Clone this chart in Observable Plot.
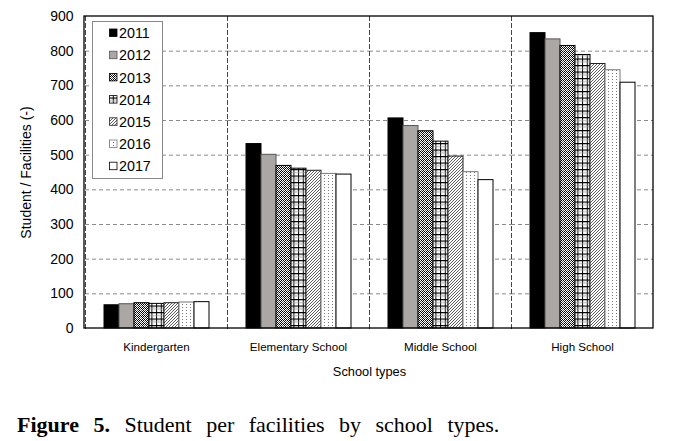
<!DOCTYPE html>
<html>
<head>
<meta charset="utf-8">
<script src="https://cdn.jsdelivr.net/npm/d3@7"></script>
<script src="https://cdn.jsdelivr.net/npm/@observablehq/plot@0.6"></script>
<style>
  html, body { margin: 0; padding: 0; background: #fff; }
  #wrap { position: relative; width: 674px; height: 441px; overflow: hidden; font-family: "Liberation Sans", Arial, sans-serif; }
  #caption { position: absolute; left: 17px; top: 414px; font-family: "Liberation Serif", "Times New Roman", serif; font-size: 22px; line-height: 22px; word-spacing: 9px; white-space: nowrap; color: #000; }
  #caption b { font-weight: bold; }
  #legend { position: absolute; left: 0; top: 0; }
</style>
</head>
<body>
<svg width="0" height="0" style="position:absolute">
  <defs>
    <pattern id="pat2013" width="4" height="4" patternUnits="userSpaceOnUse">
      <rect width="4" height="4" fill="#fff"/>
      <rect x="0" y="0" width="1" height="1" fill="#000"/>
      <rect x="2" y="0" width="1" height="1" fill="#000"/>
      <rect x="1" y="1" width="1" height="1" fill="#000"/>
      <rect x="3" y="1" width="1" height="1" fill="#555"/>
      <rect x="0" y="2" width="1" height="1" fill="#555"/>
      <rect x="2" y="2" width="1" height="1" fill="#000"/>
      <rect x="1" y="3" width="1" height="1" fill="#000"/>
      <rect x="3" y="3" width="1" height="1" fill="#000"/>
    </pattern>
    <pattern id="pat2014" width="4.7" height="6.5" patternUnits="userSpaceOnUse">
      <rect width="4.7" height="6.5" fill="#fff"/>
      <rect x="0" y="0" width="1" height="6.5" fill="#000"/>
      <rect x="0" y="0" width="4.7" height="1.2" fill="#000"/>
      <rect x="0" y="3.2" width="4.7" height="0.8" fill="#999"/>
    </pattern>
    <pattern id="pat2015" width="3" height="3" patternUnits="userSpaceOnUse">
      <rect width="3" height="3" fill="#fff"/>
      <path d="M-1,1 L1,-1 M0,3 L3,0 M2,4 L4,2" stroke="#333" stroke-width="0.8"/>
    </pattern>
    <pattern id="pat2016" width="4" height="3" patternUnits="userSpaceOnUse">
      <rect width="4" height="3" fill="#fff"/>
      <rect x="1" y="1" width="1" height="1" fill="#777"/>
    </pattern>
  </defs>
</svg>
<div id="wrap">
  <div id="chart"></div>
  <div id="caption"><b>Figure 5.</b> Student per facilities by school types.</div>
</div>
<script>
// ---- data ----
const schools = ["Kindergarten", "Elementary School", "Middle School", "High School"];
const years = ["2011", "2012", "2013", "2014", "2015", "2016", "2017"];
const v2011 = [67, 532, 606, 852];
const v2012 = [70, 501, 584, 834];
const v2013 = [73, 469, 569, 815];
const v2014 = [71, 461, 539, 789];
const v2015 = [73, 455, 496, 763];
const v2016 = [75, 446, 451, 745];
const v2017 = [76, 444, 428, 709];
const yTicks = [0, 100, 200, 300, 400, 500, 600, 700, 800, 900];
const yLabel = "Student / Facilities (-)";
const xLabel = "School types";

const seriesValues = [v2011, v2012, v2013, v2014, v2015, v2016, v2017];
const fills = ["#000", "#aba7a5", "url(#pat2013)", "url(#pat2014)", "url(#pat2015)", "url(#pat2016)", "#fff"];
const strokes = ["#000", "#555", "#000", "#000", "#222", "#777", "#000"];

const table = [];
schools.forEach((s, i) => {
  years.forEach((y, j) => {
    table.push({school: s, year: y, value: seriesValues[j][i], fill: fills[j], stroke: strokes[j]});
  });
});

const plot = Plot.plot({
  width: 674,
  height: 390,
  marginLeft: 84,
  marginRight: 21,
  marginTop: 16,
  marginBottom: 62,
  style: {fontFamily: "'Liberation Sans', Arial, sans-serif", color: "#000", background: "transparent"},
  facet: {data: table, x: "school"},
  fx: {domain: schools, padding: 0},
  x: {domain: years, paddingInner: 0, paddingOuter: 1.06, axis: null},
  y: {domain: [0, 900]},
  color: {type: "identity"},
  marks: [
    Plot.ruleY(yTicks.slice(1, -1), {stroke: "#8a8a8a", strokeDasharray: "4,3", strokeWidth: 1}),
    Plot.frame({anchor: "left", stroke: "#444", strokeDasharray: "4,3", strokeWidth: 1}),
    Plot.barY(table, {x: "year", y: "value", fill: "fill", stroke: "stroke", strokeWidth: 1}),
    Plot.axisY({ticks: yTicks, tickSize: 0, tickPadding: 12, fontSize: 14, label: yLabel, labelAnchor: "center", labelOffset: 64, labelArrow: "none"}),
    Plot.axisFx({anchor: "bottom", tickSize: 0, tickPadding: 14, fontSize: 11.6, label: xLabel, labelAnchor: "center", labelOffset: 47, labelArrow: "none"})
  ]
});

document.getElementById("chart").appendChild(plot);

// outer solid frame from the scales' ranges
const svg = d3.select(plot);
const fxr = plot.scale("fx").range;
const yr = plot.scale("y").range;
svg.append("rect")
  .attr("x", Math.min(...fxr)).attr("y", Math.min(...yr))
  .attr("width", Math.abs(fxr[1] - fxr[0])).attr("height", Math.abs(yr[0] - yr[1]))
  .attr("fill", "none").attr("stroke", "#000").attr("stroke-width", 1.3);

svg.selectAll('[aria-label="fx-axis label"] text').attr("font-size", 12.8).text(xLabel);
svg.selectAll('[aria-label="y-axis label"] text').text(yLabel);

// legend
const lg = d3.select("#wrap").append("svg").attr("id", "legend").attr("width", 674).attr("height", 441)
  .style("pointer-events", "none");
const lx = 92, ly = 21, lw = 70, lh = 157;
lg.append("rect").attr("x", lx + 0.5).attr("y", ly + 0.5).attr("width", lw).attr("height", lh)
  .attr("fill", "#fff").attr("stroke", "#888").attr("stroke-width", 1);
years.forEach((y, j) => {
  const cy = 33 + j * 22.2;
  lg.append("rect").attr("x", 109.5).attr("y", cy - 4).attr("width", 7.5).attr("height", 7.5)
    .attr("fill", fills[j]).attr("stroke", strokes[j]).attr("stroke-width", 0.8);
  lg.append("text").attr("x", 119).attr("y", cy).attr("dy", "0.36em")
    .attr("font-family", "'Liberation Sans', Arial, sans-serif").attr("font-size", 14.3).text(y);
});
</script>
</body>
</html>
